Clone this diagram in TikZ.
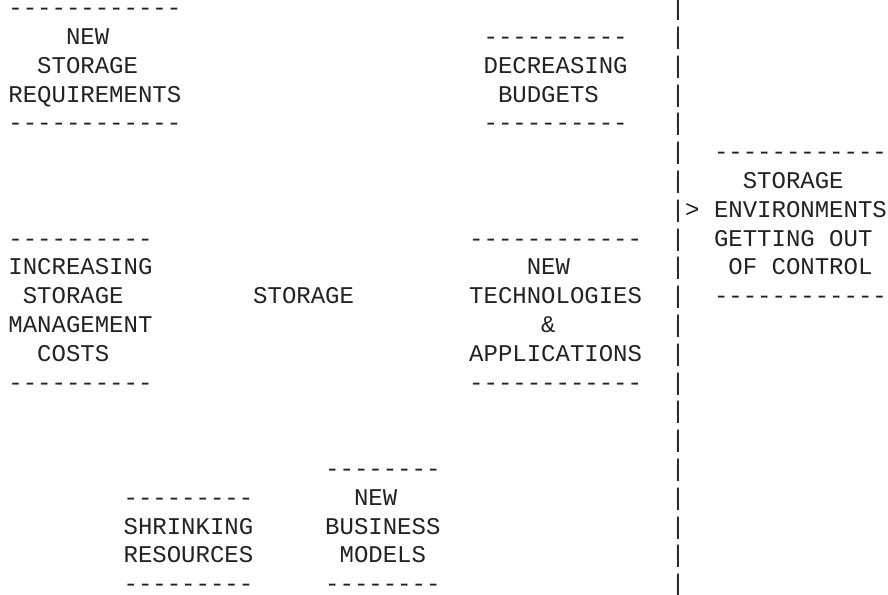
\documentclass[tikz,border=0pt]{standalone}
\usepackage{fontspec}
\setmonofont{Liberation Mono}
\definecolor{ink}{HTML}{222222}
\tikzset{
  txt/.style={anchor=base west, inner sep=0pt, outer sep=0pt, text=ink, font=\ttfamily\fontsize{24pt}{28.8pt}\selectfont},
}
\begin{document}
\begin{tikzpicture}[x=14.4pt,y=-28.8pt]
\useasboundingbox (-0.58333,-0.54167) rectangle (61.08333,20.08333);
% vertical separator made of bars
\foreach \r in {0,...,20} { \node[txt] (bar\r) at (46,\r) {|}; }
% NEW STORAGE REQUIREMENTS
\node[txt] (nsrA) at (0,0) {------------};
\node[txt] (nsr1) at (4,1) {NEW};
\node[txt] (nsr2) at (2,2) {STORAGE};
\node[txt] (nsr3) at (0,3) {REQUIREMENTS};
\node[txt] (nsrB) at (0,4) {------------};
% DECREASING BUDGETS
\node[txt] (dbA) at (33,1) {----------};
\node[txt] (db1) at (33,2) {DECREASING};
\node[txt] (db2) at (34,3) {BUDGETS};
\node[txt] (dbB) at (33,4) {----------};
% result
\node[txt] (outA) at (49,5) {------------};
\node[txt] (out1) at (51,6) {STORAGE};
\node[txt] (arrow) at (47,7) {>};
\node[txt] (out2) at (49,7) {ENVIRONMENTS};
\node[txt] (out3) at (49,8) {GETTING OUT};
\node[txt] (out4) at (50,9) {OF CONTROL};
\node[txt] (outB) at (49,10) {------------};
% INCREASING STORAGE MANAGEMENT COSTS
\node[txt] (icA) at (0,8) {----------};
\node[txt] (ic1) at (0,9) {INCREASING};
\node[txt] (ic2) at (1,10) {STORAGE};
\node[txt] (ic3) at (0,11) {MANAGEMENT};
\node[txt] (ic4) at (2,12) {COSTS};
\node[txt] (icB) at (0,13) {----------};
% centre
\node[txt] (centre) at (17,10) {STORAGE};
% NEW TECHNOLOGIES & APPLICATIONS
\node[txt] (ntA) at (32,8) {------------};
\node[txt] (nt1) at (36,9) {NEW};
\node[txt] (nt2) at (32,10) {TECHNOLOGIES};
\node[txt] (nt3) at (37,11) {\&};
\node[txt] (nt4) at (32,12) {APPLICATIONS};
\node[txt] (ntB) at (32,13) {------------};
% SHRINKING RESOURCES
\node[txt] (srA) at (8,17) {---------};
\node[txt] (sr1) at (8,18) {SHRINKING};
\node[txt] (sr2) at (8,19) {RESOURCES};
\node[txt] (srB) at (8,20) {---------};
% NEW BUSINESS MODELS
\node[txt] (nbA) at (22,16) {--------};
\node[txt] (nb1) at (24,17) {NEW};
\node[txt] (nb2) at (22,18) {BUSINESS};
\node[txt] (nb3) at (23,19) {MODELS};
\node[txt] (nbB) at (22,20) {--------};
\end{tikzpicture}
\end{document}
